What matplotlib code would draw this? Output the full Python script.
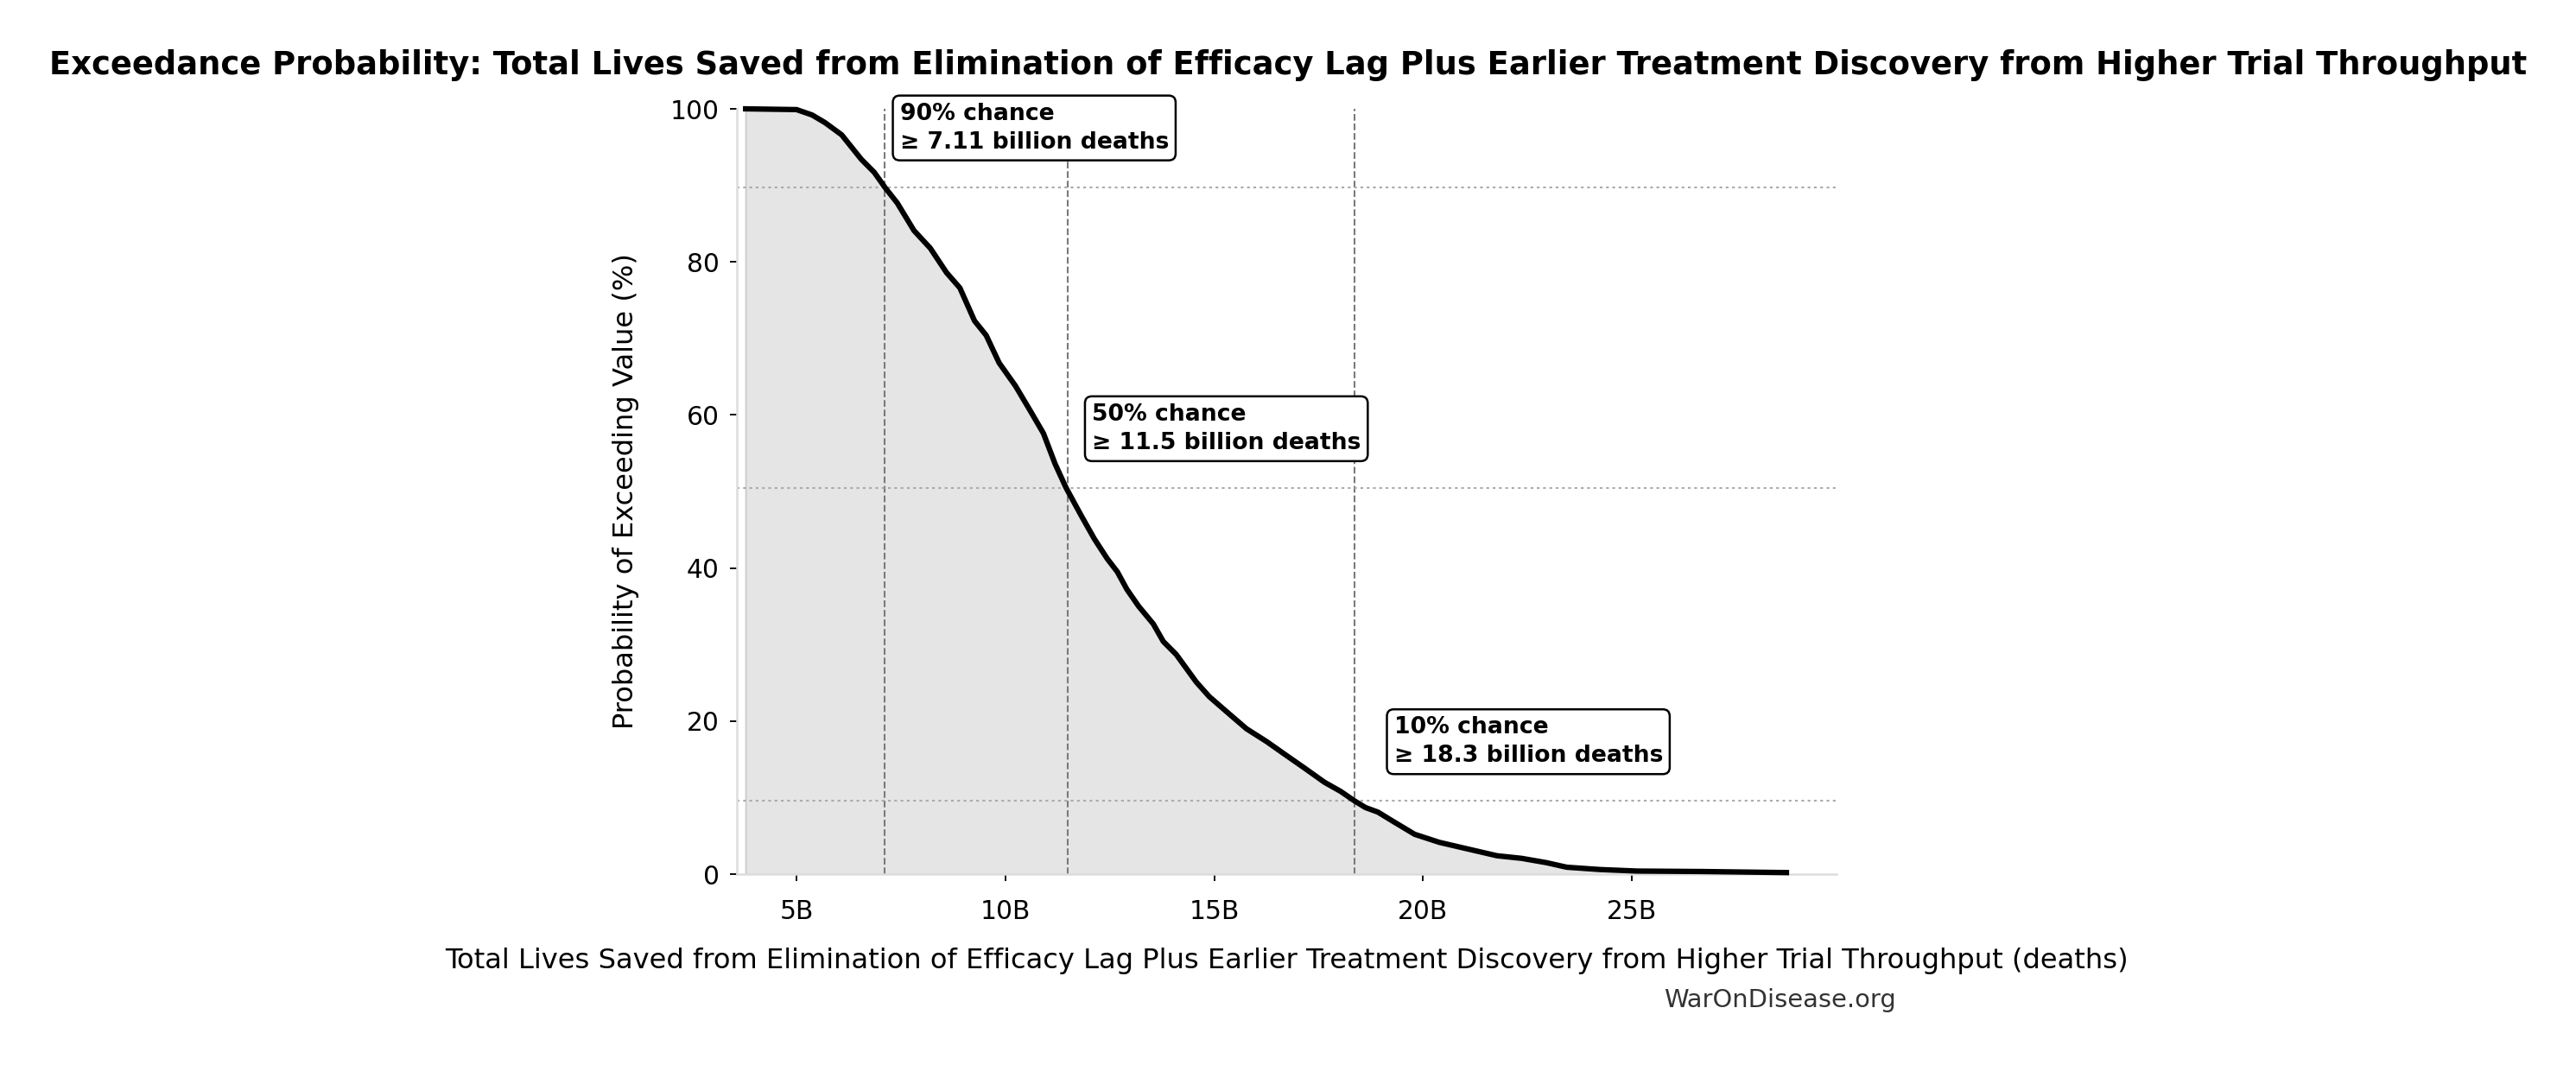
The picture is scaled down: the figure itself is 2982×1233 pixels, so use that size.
import matplotlib
matplotlib.use("Agg")
import matplotlib.pyplot as plt
from matplotlib.ticker import FuncFormatter

# ---- data (values in billions of deaths, exceedance probability in %) ----
lives_saved_billions = [
    3.78, 5.0, 5.37, 5.68, 6.08, 6.55, 6.86, 7.12, 7.41, 7.81, 8.2, 8.59,
    8.91, 9.26, 9.54, 9.85, 10.24, 10.6, 10.91, 11.19, 11.45, 11.82, 12.13,
    12.44, 12.68, 12.91, 13.19, 13.54, 13.78, 14.09, 14.57, 14.88, 15.28,
    15.77, 16.26, 16.65, 17.15, 17.64, 18.03, 18.35, 18.62, 18.92, 19.31,
    19.8, 20.39, 20.98, 21.77, 22.36, 22.95, 23.44, 24.23, 25.12, 26.69, 28.7,
]
exceedance_pct = [
    100.0, 99.9, 99.2, 98.2, 96.6, 93.4, 91.7, 89.7, 87.7, 84.1, 81.8, 78.6,
    76.6, 72.3, 70.4, 66.8, 63.8, 60.5, 57.6, 53.6, 50.5, 46.8, 43.8,
    41.2, 39.5, 37.2, 35.0, 32.7, 30.4, 28.7, 25.1, 23.2, 21.3,
    19.0, 17.3, 15.8, 13.9, 12.0, 10.8, 9.6, 8.7, 8.1, 6.8,
    5.2, 4.15, 3.4, 2.4, 2.06, 1.5, 0.9, 0.6, 0.4, 0.34, 0.2,
]
marker_probs = [90, 50, 10]
marker_values = [7.11, 11.5, 18.35]
marker_line_levels = [89.7, 50.5, 9.57]
marker_labels = ["90% chance\n≥ 7.11 billion deaths",
                 "50% chance\n≥ 11.5 billion deaths",
                 "10% chance\n≥ 18.3 billion deaths"]
label_x = [7.47, 12.07, 19.3]
label_y = [97.5, 58.2, 17.3]
x_ticks = [5, 10, 15, 20, 25]
y_ticks = [0, 20, 40, 60, 80, 100]

title = ("Exceedance Probability: Total Lives Saved from Elimination of Efficacy Lag "
         "Plus Earlier Treatment Discovery from Higher Trial Throughput")
xlabel = ("Total Lives Saved from Elimination of Efficacy Lag Plus Earlier Treatment "
          "Discovery from Higher Trial Throughput (deaths)")
ylabel = "Probability of Exceeding Value (%)"

fig = plt.figure(figsize=(2982/150, 1233/150), dpi=150)
ax = fig.add_axes([853/2982, 1 - 1012/1233, (2126-853)/2982, (1012-126)/1233])

ax.fill_between(lives_saved_billions, exceedance_pct, 0, facecolor="#e5e5e5",
                edgecolor="#cfcfcf", linewidth=1.0, zorder=1)
ax.plot(lives_saved_billions, exceedance_pct, color="black", linewidth=3.0,
        solid_joinstyle="round", zorder=4, clip_on=False)

for v in marker_values:
    ax.axvline(v, color="#7a7a7a", linestyle="--", linewidth=1.0, zorder=2)
for lvl in marker_line_levels:
    ax.axhline(lvl, color="#aaaaaa", linestyle=(0, (1.5, 2)), linewidth=1.0, zorder=2)

for lx, ly, txt in zip(label_x, label_y, marker_labels):
    ax.text(lx, ly, txt, fontsize=12.8, fontweight="bold", va="center", ha="left",
            linespacing=1.35, zorder=6,
            bbox=dict(boxstyle="round,pad=0.3", facecolor="white",
                      edgecolor="black", linewidth=1.2))

ax.set_xlim(3.57, 29.9)
ax.set_ylim(0, 100)
ax.set_xticks(x_ticks)
ax.set_yticks(y_ticks)
ax.xaxis.set_major_formatter(FuncFormatter(lambda v, p: f"{v:.0f}B"))
ax.tick_params(axis="both", labelsize=14.3, length=3.7, width=0.9, color="black")
ax.tick_params(axis="x", pad=10)
ax.tick_params(axis="y", pad=6)

for s in ["top", "right"]:
    ax.spines[s].set_visible(False)
for s in ["left", "bottom"]:
    ax.spines[s].set_color("#dddddd")
    ax.spines[s].set_linewidth(1.2)

ax.set_xlabel(xlabel, fontsize=15.4, labelpad=13)
ax.set_ylabel(ylabel, fontsize=15.4, labelpad=17)

fig.text(0.5, 1 - 86/1233, title, fontsize=17.7, fontweight="bold",
         ha="center", va="baseline")
fig.text(2195/2982, 1 - 1158/1233, "WarOnDisease.org", fontsize=13.9,
         color="#333333", ha="right", va="center")

fig.savefig("out.png", dpi=150)
